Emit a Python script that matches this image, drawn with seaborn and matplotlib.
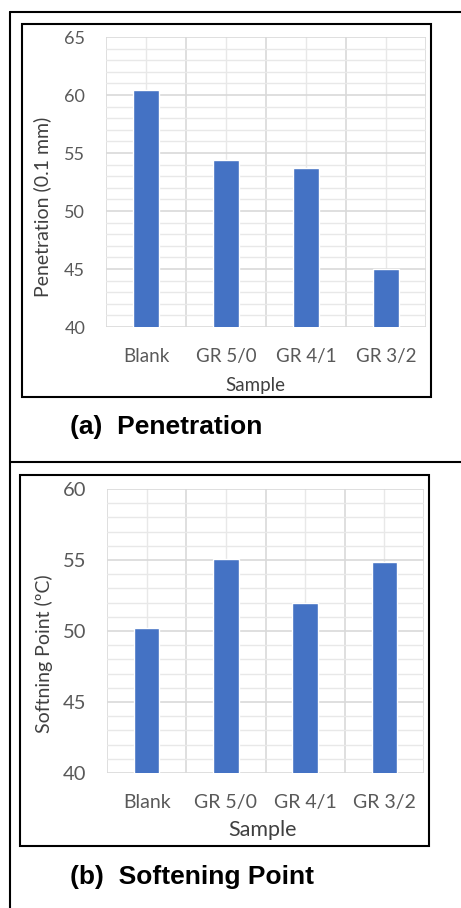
import numpy as np
import pandas as pd
import matplotlib
matplotlib.use("Agg")
import matplotlib.pyplot as plt
import seaborn as sns
from matplotlib.lines import Line2D
from matplotlib.patches import Rectangle

samples = ["Blank", "GR 5/0", "GR 4/1", "GR 3/2"]
penetration = [60.45, 54.4, 53.7, 45.0]
softening = [50.2, 55.1, 52.0, 54.85]

BAR = "#4472C4"
GRID_MAJ = "#d9d9d9"
GRID_MIN = "#e8e8e8"
TXT = "#595959"

sns.set_theme(style="white")
plt.rcParams["font.family"] = ["Lato", "DejaVu Sans"]

W, H = 461, 908
fig = plt.figure(figsize=(W / 100, H / 100), dpi=100)

def px_axes(l, t, r, b):
    return fig.add_axes([l / W, 1 - b / H, (r - l) / W, (b - t) / H])

def draw_panel(ax, vals, ylo, yhi, ylabel, ylab_y, fs_tick, fs_cat, fs_ylab, fs_xlab, xlab_x, xlab_y):
    df = pd.DataFrame({"Sample": samples, "v": vals})
    sns.barplot(data=df, x="Sample", y="v", color=BAR, width=0.32, ax=ax,
                saturation=1, zorder=3)
    ax.set_ylim(ylo, yhi)
    ax.set_xlim(-0.5, 3.5)
    ax.set_yticks(np.arange(ylo, yhi + 1, 5))
    ax.set_yticks(np.arange(ylo, yhi + 1, 1), minor=True)
    ax.set_xticks(np.arange(-0.5, 4, 1), minor=True)
    ax.grid(which="major", axis="y", color=GRID_MAJ, lw=1.2, zorder=0)
    ax.grid(which="minor", axis="y", color=GRID_MIN, lw=1.0, zorder=0)
    ax.grid(which="minor", axis="x", color=GRID_MAJ, lw=1.2, zorder=0)
    ax.grid(which="major", axis="x", color=GRID_MIN, lw=1.0, zorder=0)
    ax.set_axisbelow(True)
    for s in ax.spines.values():
        s.set_visible(False)
    ax.tick_params(which="both", length=0)
    ax.tick_params(axis="y", pad=15, labelsize=fs_tick, labelcolor=TXT)
    ax.tick_params(axis="x", pad=15, labelsize=fs_cat, labelcolor=TXT)
    ax.set_ylabel(ylabel, fontsize=fs_ylab, color="#404040")
    ax.yaxis.set_label_coords(-0.2, ylab_y)
    ax.yaxis.label.set_va("center")
    ax.set_xlabel("Sample", fontsize=fs_xlab, color="#404040")
    ax.xaxis.set_label_coords(xlab_x, xlab_y)
    ax.xaxis.label.set_va("center")

# panel (a)
ax1 = px_axes(106, 37, 426, 327)
draw_panel(ax1, penetration, 40, 65, "Penetration (0.1 mm)", 0.414,
           13, 13.5, 14, 13.5, 0.466, -0.2)

# panel (b)
ax2 = px_axes(107, 489, 424, 773)
draw_panel(ax2, softening, 40, 60, "Softning Point (\u00baC)", 0.42,
           14.5, 14, 14, 15.5, 0.49, -0.2)

# chart frames
for (l, t, r, b) in [(22, 24, 431, 397), (20, 475, 429, 846)]:
    fig.add_artist(Rectangle((l / W, 1 - b / H), (r - l) / W, (b - t) / H,
                             transform=fig.transFigure, fill=False,
                             edgecolor="black", lw=1.5))

# table lines
def hline(y):
    fig.add_artist(Line2D([10 / W, 1], [1 - y / H, 1 - y / H], transform=fig.transFigure,
                          color="black", lw=1.5))
hline(12)
hline(462)
fig.add_artist(Line2D([10 / W, 10 / W], [0, 1 - 12 / H], transform=fig.transFigure,
                      color="black", lw=1.5))

cap = dict(family=["Liberation Sans", "DejaVu Sans"], fontweight="bold", fontsize=19,
           color="black", va="center", ha="left")
fig.text(70 / W, 1 - 427 / H, "(a)  Penetration", **cap)
fig.text(70 / W, 1 - 877 / H, "(b)  Softening Point", **cap)

fig.savefig("out.png", dpi=100)
